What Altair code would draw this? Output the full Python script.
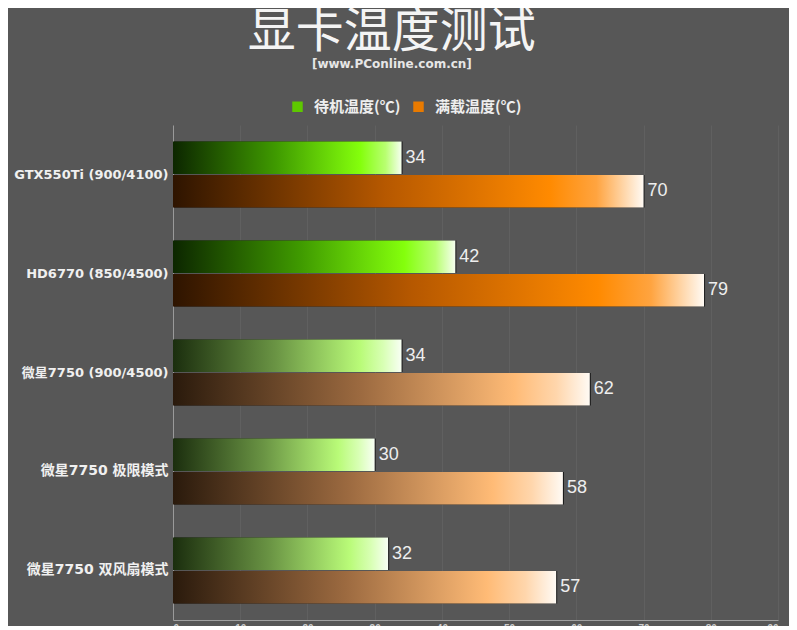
import altair as alt
import pandas as pd

categories = [
    "GTX550Ti (900/4100)",
    "HD6770 (850/4500)",
    "微星7750 (900/4500)",
    "微星7750 极限模式",
    "微星7750 双风扇模式",
]
series_names = ["待机温度(℃)", "满载温度(℃)"]
idle_temps = [34, 42, 34, 30, 32]
load_temps = [70, 79, 62, 58, 57]
x_ticks = [0, 10, 20, 30, 40, 50, 60, 70, 80, 90]

rows = []
for c, a, b in zip(categories, idle_temps, load_temps):
    rows.append({"显卡": c, "项目": series_names[0], "温度": a})
    rows.append({"显卡": c, "项目": series_names[1], "温度": b})
df = pd.DataFrame(rows)

bright = categories[:2]
pale = categories[2:]

FONT = "Liberation Sans, Arial, Noto Sans CJK SC, sans-serif"
BOLD = "DejaVu Sans, Noto Sans CJK SC, sans-serif"
CJK = "Noto Sans CJK SC, sans-serif"


def grad(stops):
    return alt.LinearGradient(
        gradient="linear", x1=0, y1=0, x2=1, y2=0,
        stops=[alt.GradientStop(offset=o, color=c) for o, c in stops],
    )


g_bright = grad([(0, "#0c2600"), (0.45, "#3f9a00"), (0.82, "#84ff0c"), (0.93, "#b8ff70"), (1, "#f6fff0")])
o_bright = grad([(0, "#2e1400"), (0.45, "#b65800"), (0.8, "#ff8a00"), (0.9, "#ffa440"), (1, "#fffaf4")])
g_pale = grad([(0, "#1b2e0e"), (0.45, "#6a9444"), (0.82, "#b9fb78"), (0.92, "#d8ffb4"), (1, "#f8fff4")])
o_pale = grad([(0, "#2a1a0c"), (0.45, "#9c6a40"), (0.82, "#ffbb76"), (0.92, "#ffd6ac"), (1, "#fffaf4")])

y_enc = alt.Y(
    "显卡:N", sort=categories,
    scale=alt.Scale(paddingInner=0.333, paddingOuter=0.167),
    axis=alt.Axis(
        title=None, labelFont=BOLD,
        labelFontSize={"condition": {"test": "indexof(datum.label, '模式') >= 0", "value": 14}, "value": 13},
        labelFontWeight="bold",
        labelColor="#f0f0f0", labelPadding=5, ticks=False, grid=False,
        domainColor="#9a9a9a", domainWidth=1, labelLimit=300,
    ),
)
x_enc = alt.X(
    "温度:Q", scale=alt.Scale(domain=[0, 90], nice=False),
    axis=alt.Axis(
        values=x_ticks, title=None, grid=True, gridColor="#606060", gridWidth=1,
        ticks=False, domainColor="#a0a0a0", labelColor="#cccccc",
        labelFont=FONT, labelFontSize=10, labelFontWeight="bold", labelPadding=3,
    ),
)
yoff = alt.YOffset("项目:N", sort=series_names, scale=alt.Scale(paddingInner=0.03))

base = alt.Chart(df)

legend_layer = base.mark_square(opacity=0).encode(
    x=x_enc, y=y_enc, yOffset=yoff,
    color=alt.Color(
        "项目:N", sort=series_names,
        scale=alt.Scale(domain=series_names, range=["#5ec800", "#e87a00"]),
        legend=alt.Legend(
            title=None, orient="none", legendX=117, legendY=-26, direction="horizontal",
            symbolType="square", symbolSize=110, symbolOpacity=1, symbolStrokeWidth=0,
            labelFont=CJK, labelFontSize=15, labelFontWeight="bold", labelColor="#eeeeee",
            labelOffset=9, columnPadding=10, labelLimit=300,
        ),
    ),
)

shadow = base.mark_bar(color="#161616", yOffset=2, xOffset=1).encode(x=x_enc, y=y_enc, yOffset=yoff)


def bars(cats, series, fill):
    return base.transform_filter(
        alt.FieldOneOfPredicate(field="显卡", oneOf=cats)
    ).transform_filter(
        alt.FieldEqualPredicate(field="项目", equal=series)
    ).mark_bar(color=fill).encode(x=x_enc, y=y_enc, yOffset=yoff)


labels = base.mark_text(
    align="left", baseline="middle", dx=4, fontSize=18, font=FONT, color="#eeeeee"
).encode(x=x_enc, y=y_enc, yOffset=yoff, text="温度:Q")

chart = alt.layer(
    legend_layer,
    shadow,
    bars(bright, series_names[0], g_bright),
    bars(bright, series_names[1], o_bright),
    bars(pale, series_names[0], g_pale),
    bars(pale, series_names[1], o_pale),
    labels,
).properties(
    width=605,
    height=495,
    autosize=alt.AutoSizeParams(type="none"),
    padding={"left": 165, "top": 117, "right": 11, "bottom": 6},
    title=alt.TitleParams(
        text="显卡温度测试",
        subtitle="[www.PConline.com.cn]",
        font=CJK, fontSize=48, fontWeight="normal", color="#f4f4f4",
        subtitleFont=BOLD, subtitleFontSize=12, subtitleFontWeight="bold",
        subtitleColor="#e6e6e6", subtitlePadding=2,
        anchor="middle", frame="bounds", offset=29, dx=-4,
    ),
).configure(background="#575757").configure_view(stroke=None)

chart.save("out.html", embed_options={"renderer": "svg", "actions": False})
